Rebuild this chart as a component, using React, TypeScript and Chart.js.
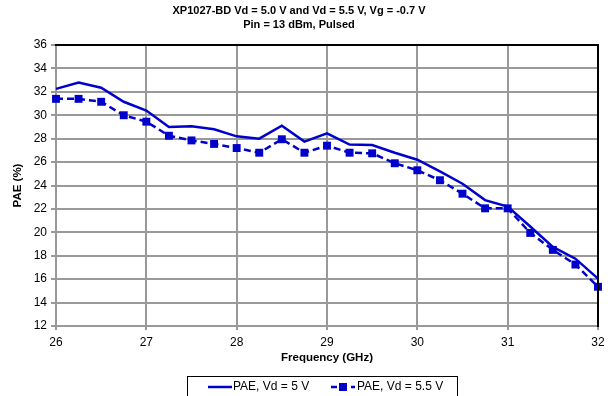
import React, { useEffect, useRef } from "react";
import { Chart, registerables } from "chart.js";

Chart.register(...registerables);

// Frequency sweep points (GHz)
const frequencies = [
  26, 26.25, 26.5, 26.75, 27, 27.25, 27.5, 27.75, 28, 28.25, 28.5, 28.75, 29,
  29.25, 29.5, 29.75, 30, 30.25, 30.5, 30.75, 31, 31.25, 31.5, 31.75, 32,
];

// Power-added efficiency (%) at Vd = 5 V
const pae5V = [
  32.25, 32.8, 32.35, 31.15, 30.4, 29.0, 29.05, 28.8, 28.2, 28.0, 29.1, 27.75,
  28.45, 27.5, 27.45, 26.8, 26.2, 25.2, 24.15, 22.75, 22.2, 20.5, 18.75, 17.75,
  16.05,
];

// Power-added efficiency (%) at Vd = 5.5 V
const pae55V = [
  31.4, 31.4, 31.15, 30.0, 29.45, 28.25, 27.85, 27.55, 27.2, 26.8, 27.95, 26.8,
  27.4, 26.8, 26.75, 25.9, 25.3, 24.45, 23.3, 22.05, 22.05, 19.95, 18.5, 17.25,
  15.35,
];

const titleLines = [
  "XP1027-BD Vd = 5.0 V and Vd = 5.5 V, Vg = -0.7 V",
  "Pin = 13 dBm, Pulsed",
];
const seriesLabels = ["PAE, Vd = 5 V", "PAE, Vd = 5.5 V"];
const xTitle = "Frequency (GHz)";
const yTitle = "PAE (%)";

const FONT = "'Liberation Sans', Arial, sans-serif";
const BLUE = "#0000CC";

// Black frame on the top and right of the plot area
const frameEdges = {
  id: "frameEdges",
  afterDatasetsDraw(chart: any) {
    const { ctx, chartArea } = chart;
    const { left, right, top, bottom } = chartArea;
    ctx.save();
    ctx.strokeStyle = "#000";
    ctx.lineWidth = 2;
    ctx.beginPath();
    ctx.moveTo(left - 1, top);
    ctx.lineTo(right, top);
    ctx.lineTo(right, bottom + 1);
    ctx.stroke();
    ctx.restore();
  },
};

// Boxed legend under the axis title
const boxedLegend = {
  id: "boxedLegend",
  afterDraw(chart: any) {
    const { ctx } = chart;
    const boxX = 187.5;
    const boxY = 376.5;
    const boxW = 270;
    const boxH = 24;
    const midY = 387;
    ctx.save();
    ctx.strokeStyle = "#000";
    ctx.lineWidth = 1;
    ctx.strokeRect(boxX, boxY, boxW, boxH);

    ctx.font = `12px ${FONT}`;
    ctx.fillStyle = "#000";
    ctx.textBaseline = "middle";
    ctx.textAlign = "left";

    // solid series
    ctx.strokeStyle = BLUE;
    ctx.lineWidth = 2.5;
    ctx.beginPath();
    ctx.moveTo(208, midY);
    ctx.lineTo(232, midY);
    ctx.stroke();
    ctx.fillText(seriesLabels[0], 233, midY);

    // dashed series with square marker
    ctx.setLineDash([6, 4]);
    ctx.beginPath();
    ctx.moveTo(331, midY);
    ctx.lineTo(355, midY);
    ctx.stroke();
    ctx.setLineDash([]);
    ctx.fillStyle = BLUE;
    ctx.fillRect(339, midY - 4, 8, 8);
    ctx.fillStyle = "#000";
    ctx.fillText(seriesLabels[1], 357, midY);
    ctx.restore();
  },
};

export default function App() {
  const canvasRef = useRef<HTMLCanvasElement | null>(null);

  useEffect(() => {
    if (!canvasRef.current) return;
    const chart = new Chart(canvasRef.current, {
      type: "line",
      data: {
        datasets: [
          {
            label: seriesLabels[0],
            data: frequencies.map((f, i) => ({ x: f, y: pae5V[i] })),
            borderColor: BLUE,
            backgroundColor: BLUE,
            borderWidth: 2.5,
            pointRadius: 0,
            tension: 0,
            clip: false as any,
          },
          {
            label: seriesLabels[1],
            data: frequencies.map((f, i) => ({ x: f, y: pae55V[i] })),
            borderColor: BLUE,
            backgroundColor: BLUE,
            borderWidth: 2.5,
            borderDash: [7, 4],
            pointStyle: "rect",
            pointRadius: 5.6,
            pointBorderWidth: 0,
            pointBackgroundColor: BLUE,
            tension: 0,
            clip: false as any,
          },
        ],
      },
      options: {
        responsive: false,
        animation: false,
        layout: { padding: { left: 0, right: 14, top: 0, bottom: 30 } },
        plugins: {
          legend: { display: false },
          tooltip: { enabled: false },
          title: {
            display: true,
            text: titleLines,
            color: "#000",
            font: { family: FONT, size: 11, weight: "bold", lineHeight: "14px" } as any,
            padding: { top: 4, bottom: 13 },
          },
        },
        scales: {
          x: {
            type: "linear",
            min: 26,
            max: 32,
            ticks: {
              stepSize: 1,
              color: "#000",
              font: { family: FONT, size: 12 },
              padding: 5,
              maxRotation: 0,
            },
            grid: { color: "#999", lineWidth: 2, tickLength: 4 },
            border: { color: "#999", width: 2 },
            title: {
              display: true,
              text: xTitle,
              color: "#000",
              font: { family: FONT, size: 11.5, weight: "bold" },
              padding: { top: 0, bottom: 1.5 },
            },
            afterFit(scale: any) {
              scale.height = 40;
            },
          },
          y: {
            min: 12,
            max: 36,
            ticks: {
              stepSize: 2,
              color: "#000",
              font: { family: FONT, size: 12 },
              padding: 4,
            },
            grid: { color: "#999", lineWidth: 2, tickLength: 5 },
            border: { color: "#999", width: 2 },
            title: {
              display: true,
              text: yTitle,
              color: "#000",
              font: { family: FONT, size: 11.5, weight: "bold" },
              padding: { top: 11, bottom: 0 },
            },
            afterFit(scale: any) {
              scale.width = 56;
            },
          },
        },
      },
      plugins: [frameEdges, boxedLegend],
    });
    return () => chart.destroy();
  }, []);

  return (
    <div style={{ position: "fixed", left: 0, top: 0, width: 612, height: 396, background: "#fff" }}>
      <canvas ref={canvasRef} width={612} height={396} />
    </div>
  );
}
